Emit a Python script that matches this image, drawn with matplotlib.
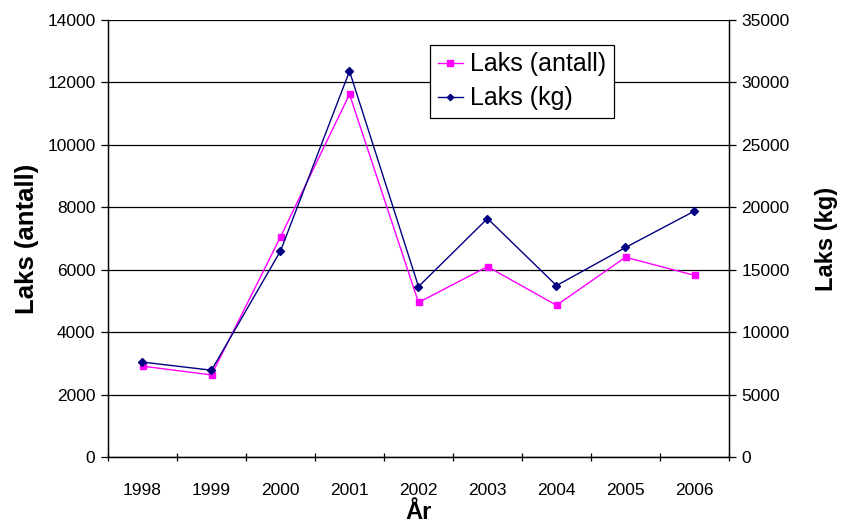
import matplotlib
matplotlib.use("Agg")
import matplotlib.pyplot as plt
import numpy as np

years = ["1998", "1999", "2000", "2001", "2002", "2003", "2004", "2005", "2006"]
laks_antall = [2910, 2630, 7050, 11620, 4950, 6100, 4860, 6400, 5820]
laks_kg = [7600, 6950, 16500, 30900, 13650, 19100, 13730, 16780, 19700]

plt.rcParams['font.family'] = ['Liberation Sans', 'DejaVu Sans']

fig = plt.figure(figsize=(8.41, 5.23), dpi=100)
ax = fig.add_axes([108/841, 1-457/523, (729-108)/841, (457-20)/523])
ax2 = ax.twinx()

x = np.arange(len(years))
l1, = ax.plot(x, laks_antall, color='#FF00FF', lw=1.0, marker='s', ms=5,
              label='Laks (antall)', zorder=3)
l2, = ax2.plot(x, laks_kg, color='#000080', lw=1.0, marker='D', ms=4,
               label='Laks (kg)', zorder=3)

ax.set_xlim(-0.5, len(years) - 0.5)
ax.set_ylim(0, 14000)
ax2.set_ylim(0, 35000)
ax.set_yticks(np.arange(0, 14001, 2000))
ax2.set_yticks(np.arange(0, 35001, 5000))
ax.grid(axis='y', color='black', lw=0.9)
ax.set_axisbelow(True)

ax.set_xticks(x)
ax.set_xticklabels(years)
ax.set_xticks(np.arange(-0.5, len(years), 1), minor=True)
ax.tick_params(axis='x', which='major', length=0, pad=19, labelsize=12.5)
ax.tick_params(axis='x', which='minor', length=6, direction='inout', width=0.9)
ax.tick_params(axis='y', length=5, direction='out', labelsize=12.5, width=0.9, pad=4)
ax2.tick_params(axis='y', length=5, direction='out', labelsize=12.5, width=0.9, pad=4)

for a in (ax, ax2):
    a.spines['top'].set_visible(False)
    for s in ('left', 'right', 'bottom'):
        a.spines[s].set_linewidth(0.9)

ax.set_ylabel('Laks (antall)', fontsize=18.5, fontweight='bold', labelpad=6)
ax2.set_ylabel('Laks (kg)', fontsize=17, fontweight='bold', labelpad=18)
ax.set_xlabel('År', fontsize=17, fontweight='bold', labelpad=2)

leg = ax2.legend(handles=[l1, l2], loc='upper left', bbox_to_anchor=(0.519, 0.943),
                 fontsize=18, frameon=True, fancybox=False, framealpha=1,
                 edgecolor='black', borderpad=0.3, handlelength=1.0,
                 handletextpad=0.3, labelspacing=0.4, borderaxespad=0,
                 markerscale=0.8)
leg.get_frame().set_linewidth(0.9)

fig.savefig('out.png', dpi=100)
